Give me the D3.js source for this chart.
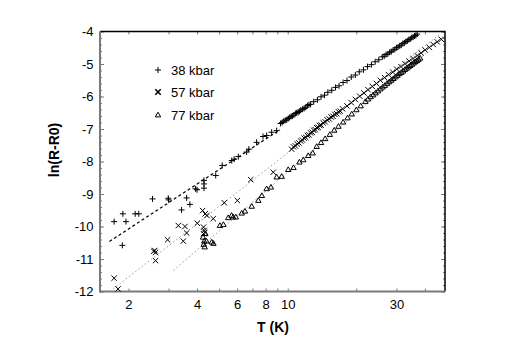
<!DOCTYPE html>
<html>
<head>
<meta charset="utf-8">
<script src="https://cdn.jsdelivr.net/npm/d3@7"></script>
<style>
  body { margin: 0; background: #fff; }
  svg { font-family: "Liberation Sans", Arial, sans-serif; }
</style>
</head>
<body>
<svg id="chart" width="526" height="364"></svg>
<script>
// series: [T (K), ln(R-R0)]
const pts38 = [
  [1.73,-9.85],[1.89,-9.61],[1.95,-9.85],[2.14,-9.61],[2.22,-9.61],[1.88,-10.58],
  [2.55,-9.15],[2.99,-9.13],[3.0,-9.18],[3.42,-9.49],[3.6,-9.12],[3.72,-9.32],
  [3.94,-8.84],[4.0,-8.87],[4.29,-8.58],[4.29,-8.69],[4.29,-8.82],[4.83,-8.43],
  [5.16,-8.12],[5.68,-7.97],[5.82,-7.93],[6.07,-7.85],[6.6,-7.71],[6.75,-7.62],
  [7.3,-7.41],[7.79,-7.23],[8.08,-7.2],[8.5,-7.1],[8.94,-7.05],
  [9.3,-6.83],[9.45,-6.80],[9.6,-6.76],[9.75,-6.73],[9.9,-6.72],[10.05,-6.68],
  [10.2,-6.64],[10.35,-6.61],[10.5,-6.60],[10.65,-6.57],[10.8,-6.52],[10.95,-6.50],
  [11.1,-6.49],[11.25,-6.46],[11.4,-6.42],[11.6,-6.39],[11.8,-6.37],[12.0,-6.33],
  [12.2,-6.28],[12.4,-6.25],[12.6,-6.24],[13.0,-6.16],[13.5,-6.10],[14.0,-6.01],
  [14.5,-5.96],[15.0,-5.87],[15.6,-5.81],[16.2,-5.72],[16.8,-5.67],[17.5,-5.57],
  [18.2,-5.51],[19.0,-5.40],[19.8,-5.34],[20.6,-5.24],[21.5,-5.18],[22.4,-5.08],
  [23.3,-5.02],[24.2,-4.93],[25.1,-4.87],[26.0,-4.78],[26.5,-4.76],[27.0,-4.71],
  [27.5,-4.69],[28.0,-4.64],[28.5,-4.62],[29.0,-4.57],[29.5,-4.55],[30.0,-4.50],
  [30.5,-4.48],[31.0,-4.44],[31.5,-4.42],[32.0,-4.37],[32.5,-4.35],[33.0,-4.31],
  [33.5,-4.29],[34.0,-4.25],[34.5,-4.23],[35.0,-4.19],[35.5,-4.17],[36.0,-4.14],
  [36.5,-4.12],[37.0,-4.08]
];
const pts57 = [
  [1.73,-11.59],[1.8,-11.92],[2.58,-10.76],[2.61,-10.74],[2.63,-10.8],[2.63,-11.05],
  [2.97,-10.41],[3.31,-9.97],[3.54,-10.0],[3.48,-10.45],[3.6,-10.2],[4.01,-9.9],
  [4.23,-9.51],[4.34,-9.61],[4.42,-9.66],[4.27,-10.02],[4.3,-10.12],[4.33,-10.18],
  [4.27,-10.22],[4.71,-9.76],[5.27,-9.27],[6.01,-9.2],[6.88,-8.56],[8.64,-8.33],
  [10.4,-7.62],[10.6,-7.55],[10.8,-7.52],[11.0,-7.46],[11.2,-7.43],[11.4,-7.37],
  [11.6,-7.34],[11.8,-7.28],[12.0,-7.26],[12.2,-7.20],[12.4,-7.18],[12.6,-7.12],
  [12.8,-7.10],[13.0,-7.04],[13.2,-7.02],[13.4,-6.96],[13.6,-6.95],[13.8,-6.89],
  [14.0,-6.88],[14.3,-6.81],[14.6,-6.78],[14.9,-6.72],[15.2,-6.69],[15.5,-6.63],
  [15.8,-6.61],[16.1,-6.55],[16.4,-6.53],[16.7,-6.47],[17.0,-6.45],[17.4,-6.38],
  [18.2,-6.29],[19.0,-6.19],[19.8,-6.09],[20.7,-5.99],[21.6,-5.89],[22.5,-5.79],
  [23.5,-5.69],[24.5,-5.60],[25.5,-5.50],[26.6,-5.42],[27.7,-5.33],[28.9,-5.25],
  [30.1,-5.16],[31.4,-5.08],[32.7,-4.99],[34.1,-4.91],[35.5,-4.83],[37.0,-4.74],
  [38.5,-4.66],[40.1,-4.57],[41.8,-4.49],[43.5,-4.40],[45.3,-4.32],[47.2,-4.24]
];
const pts77 = [
  [4.25,-10.33],[4.3,-10.45],[4.28,-10.55],[4.32,-10.63],[4.35,-10.22],[4.4,-10.45],
  [4.64,-10.48],[4.72,-10.52],[5.04,-9.97],[5.22,-9.94],[5.48,-9.73],[5.67,-9.66],
  [5.76,-9.71],[5.92,-9.71],[6.28,-9.59],[6.49,-9.53],[6.95,-9.38],[7.43,-9.2],
  [7.7,-9.05],[8.08,-8.84],[8.44,-8.79],[8.94,-8.48],[9.41,-8.46],[10.05,-8.25],
  [10.6,-8.19],[11.25,-8.02],[11.7,-7.95],[12.3,-7.82],[12.87,-7.74],
  [13.4,-7.54],[14.0,-7.42],[14.6,-7.30],[15.3,-7.17],[16.0,-7.04],[16.7,-6.92],
  [17.5,-6.79],[18.3,-6.66],[19.1,-6.54],[20.0,-6.41],[20.9,-6.29],[21.9,-6.16],
  [22.5,-6.08],[23.1,-6.01],[23.7,-5.95],[24.3,-5.89],[24.9,-5.83],[25.5,-5.77],
  [26.1,-5.71],[26.7,-5.66],[27.3,-5.60],[27.9,-5.55],[28.5,-5.50],[29.1,-5.45],
  [29.7,-5.40],[30.3,-5.35],[30.9,-5.30],[31.5,-5.26],[32.1,-5.22],[32.7,-5.17],
  [33.3,-5.13],[33.9,-5.09],[34.5,-5.05],[35.1,-5.01],[35.7,-4.97],[36.3,-4.93],
  [36.9,-4.90],[37.5,-4.86],[38.1,-4.82]
];

// fit lines (end points)
const fit38 = [[1.65,-10.46],[9.25,-7.02]];
const fit57 = [[1.66,-12],[46.6,-4.08]];
const fit77 = [[3.15,-11.35],[41.2,-4.62]];

const seriesNames = ["38 kbar", "57 kbar", "77 kbar"];
const xTicks = [2,3,4,5,6,7,8,9,10,20,30,40];
const xTickLabels = [2,4,6,8,10,30];
const yMajor = d3.range(-12, -3.5, 1);
const yMinor = d3.range(-12, -3.9, 0.2);

const svg = d3.select("#chart");
const x = d3.scaleLog().domain([1.5, 49]).range([100, 445]);
const y = d3.scaleLinear().domain([-12, -4]).range([291.5, 31.5]);

const axisGray = "#7a7a7a";

function styleAxis(g) {
  g.select(".domain").remove();
  g.selectAll(".tick line").attr("stroke", axisGray);
  g.selectAll("text").attr("fill", "#000").attr("font-size", 13);
}

// bottom / top
svg.append("g").attr("transform", "translate(0,291.5)")
  .call(d3.axisBottom(x).tickValues(xTicks).tickSize(-3).tickPadding(8)
    .tickFormat(d => xTickLabels.includes(d) ? d : ""))
  .call(styleAxis);
svg.append("g").attr("transform", "translate(0,31.5)")
  .call(d3.axisTop(x).tickValues(xTicks).tickSize(-3).tickFormat(""))
  .call(styleAxis);

// left / right
svg.append("g").attr("transform", "translate(100,0)")
  .call(d3.axisLeft(y).tickValues(yMinor).tickSize(-2).tickFormat(""))
  .call(styleAxis);
svg.append("g").attr("transform", "translate(100,0)")
  .call(d3.axisLeft(y).tickValues(yMajor).tickSize(-4).tickPadding(6.5).tickFormat(d => String(d)))
  .call(styleAxis);
svg.append("g").attr("transform", "translate(445,0)")
  .call(d3.axisRight(y).tickValues(yMinor).tickSize(-2).tickFormat(""))
  .call(styleAxis);
svg.append("g").attr("transform", "translate(445,0)")
  .call(d3.axisRight(y).tickValues(yMajor).tickSize(-4).tickFormat(""))
  .call(styleAxis);

// frame: top/right black, left/bottom gray
svg.append("path").attr("d", "M100,31.5H445V291.5")
  .attr("fill", "none").attr("stroke", "#000").attr("stroke-width", 1.5);
svg.append("path").attr("d", "M100,31.5V291.5H445")
  .attr("fill", "none").attr("stroke", axisGray).attr("stroke-width", 2);

// axis titles
svg.append("text").attr("x", 273).attr("y", 332)
  .attr("text-anchor", "middle").attr("font-weight", "bold").attr("font-size", 14)
  .text("T (K)");
svg.append("text").attr("transform", "translate(54,150) rotate(-90)")
  .attr("dy", "0.35em").attr("text-anchor", "middle")
  .attr("font-weight", "bold").attr("font-size", 14)
  .text("ln(R-R0)");

// fit lines
const line = d3.line().x(d => x(d[0])).y(d => y(d[1]));
svg.append("path").attr("d", line(fit38)).attr("fill", "none")
  .attr("stroke", "#000").attr("stroke-width", 1.2).attr("stroke-dasharray", "3,2.5");
[fit57, fit77].forEach(f => {
  svg.append("path").attr("d", line(f)).attr("fill", "none")
    .attr("stroke", "#999").attr("stroke-width", 1).attr("stroke-dasharray", "1.5,2.5");
});

// markers
const shapes = [
  "M-3,0H3M0,-3V3",
  "M-2.7,-2.7L2.7,2.7M-2.7,2.7L2.7,-2.7",
  "M0,-2.8L2.7,1.9H-2.7Z"
];
[pts38, pts57, pts77].forEach((pts, i) => {
  svg.append("g").selectAll("path").data(pts).join("path")
    .attr("transform", d => `translate(${x(d[0])},${y(d[1])})`)
    .attr("d", shapes[i])
    .attr("fill", "none").attr("stroke", "#000").attr("stroke-width", 1);
});

// legend
const leg = svg.append("g");
seriesNames.forEach((name, i) => {
  const cy = [70, 92, 115][i];
  leg.append("path").attr("transform", `translate(158,${cy})`)
    .attr("d", shapes[i]).attr("fill", "none").attr("stroke", "#000")
    .attr("stroke-width", i === 1 ? 1.6 : 1);
  leg.append("text").attr("x", 171).attr("y", cy).attr("dy", "0.35em")
    .attr("font-size", 13).text(name);
});
</script>
</body>
</html>
